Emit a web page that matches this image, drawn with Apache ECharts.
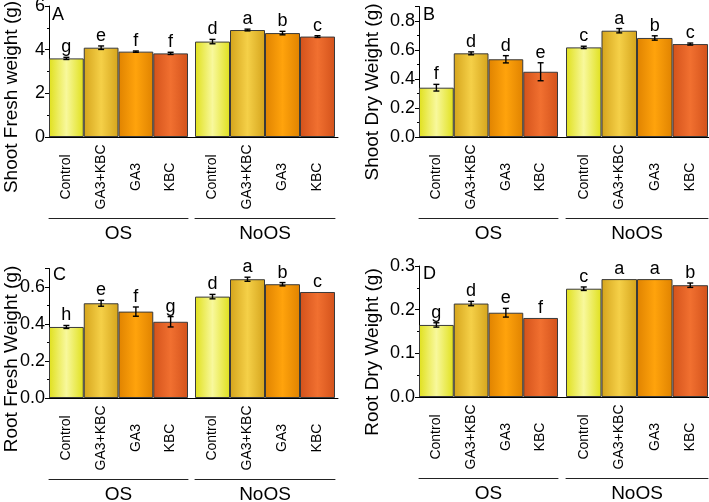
<!DOCTYPE html>
<html><head><meta charset="utf-8">
<script src="https://cdn.jsdelivr.net/npm/echarts@6/dist/echarts.min.js"></script>
<style>html,body{margin:0;padding:0;background:#fff}#c{width:709px;height:502px}</style>
</head><body><div id="c"></div>
<script>
// ---- data ----
const categories = ['Control', 'GA3+KBC', 'GA3', 'KBC'];
const groups = ['OS', 'NoOS'];
const panelLetters = ['A', 'B', 'C', 'D'];
const yNames = ['Shoot Fresh weight (g)', 'Shoot Dry Weight (g)', 'Root Fresh Weight (g)', 'Root Dry Weight (g)'];

const aOS = [3.60, 4.09, 3.91, 3.83];
const aOSErr = [0.05, 0.08, 0.03, 0.05];
const aOSLet = ['g', 'e', 'f', 'f'];
const aNo = [4.37, 4.90, 4.76, 4.60];
const aNoErr = [0.10, 0.04, 0.08, 0.04];
const aNoLet = ['d', 'a', 'b', 'c'];

const bOS = [0.340, 0.577, 0.536, 0.450];
const bOSErr = [0.023, 0.010, 0.025, 0.062];
const bOSLet = ['f', 'd', 'd', 'e'];
const bNo = [0.618, 0.733, 0.683, 0.641];
const bNoErr = [0.008, 0.015, 0.015, 0.007];
const bNoLet = ['c', 'a', 'b', 'c'];

const cOS = [0.384, 0.512, 0.467, 0.412];
const cOSErr = [0.008, 0.016, 0.025, 0.028];
const cOSLet = ['h', 'e', 'f', 'g'];
const cNo = [0.548, 0.642, 0.615, 0.573];
const cNoErr = [0.012, 0.011, 0.009, 0];
const cNoLet = ['d', 'a', 'b', 'c'];

const dOS = [0.165, 0.214, 0.193, 0.181];
const dOSErr = [0.005, 0.005, 0.010, 0];
const dOSLet = ['g', 'd', 'e', 'f'];
const dNo = [0.248, 0.270, 0.270, 0.256];
const dNoErr = [0.004, 0, 0, 0.005];
const dNoLet = ['c', 'a', 'a', 'b'];

const yMax = [6, 0.9, 0.7, 0.3];
const yInterval = [2, 0.2, 0.2, 0.1];
const yDecimals = [0, 1, 1, 1];

const panelData = [
  [[aOS, aOSErr, aOSLet], [aNo, aNoErr, aNoLet]],
  [[bOS, bOSErr, bOSLet], [bNo, bNoErr, bNoLet]],
  [[cOS, cOSErr, cOSLet], [cNo, cNoErr, cNoLet]],
  [[dOS, dOSErr, dOSLet], [dNo, dNoErr, dNoLet]]
];

// ---- layout / style ----
const layouts = [
  {top: 6, base: 137, yx: 49, osR: 188, noL: 195, noR: 335, fullR: 338, nx: 12, ny: 97, lx: 52, ly: 6},
  {top: 6.5, base: 137, yx: 419, osR: 558, noL: 566, noR: 708, fullR: 709, nx: 373, ny: 92, lx: 423, ly: 6},
  {top: 268.5, base: 398, yx: 49, osR: 188, noL: 195, noR: 335, fullR: 338, nx: 12, ny: 359, lx: 53, ly: 266},
  {top: 266, base: 397, yx: 419, osR: 558, noL: 566, noR: 708, fullR: 709, nx: 373, ny: 352, lx: 423, ly: 265}
];
const barColors = [
  ['#f8f89c', '#e0e01c'],
  ['#f5d048', '#d5a41c'],
  ['#ffa30c', '#e08300'],
  ['#f17030', '#d3521b']
];
const FONT = 'Liberation Sans, Arial, sans-serif';

function grad(c) {
  return {type: 'linear', x: 0, y: 0, x2: 1, y2: 0,
    colorStops: [{offset: 0, color: c[1]}, {offset: 0.5, color: c[0]}, {offset: 1, color: c[1]}]};
}

const grids = [], xAxes = [], yAxes = [], series = [], graphics = [];

layouts.forEach((L, p) => {
  const h = L.base - L.top;
  const gFull = grids.length;
  grids.push({left: L.yx, top: L.top, width: L.fullR - L.yx, height: h, outerBoundsMode: 'none'});
  xAxes.push({gridIndex: gFull, type: 'value', min: 0, max: 1,
    axisLine: {show: true, onZero: false, lineStyle: {color: '#000', width: 1}},
    axisTick: {show: false}, axisLabel: {show: false}, splitLine: {show: false}});
  const ratio = yMax[p] / yInterval[p];
  yAxes.push({gridIndex: gFull, type: 'value', min: 0, max: yMax[p], interval: yInterval[p],
    axisLine: {show: true, lineStyle: {color: '#000', width: 1}},
    axisTick: {show: true, length: 4, lineStyle: {color: '#000'}},
    minorTick: {show: true, splitNumber: 2, length: 2, lineStyle: {color: '#000'}},
    splitLine: {show: false}, minorSplitLine: {show: false},
    axisLabel: {color: '#000', fontSize: 18, fontFamily: FONT, margin: 4,
      showMaxLabel: Math.abs(ratio - Math.round(ratio)) < 1e-9,
      formatter: v => Number(v).toFixed(yDecimals[p])}});

  [[L.yx, L.osR], [L.noL, L.noR]].forEach((lr, gi) => {
    const g = grids.length;
    grids.push({left: lr[0], top: L.top, width: lr[1] - lr[0], height: h, outerBoundsMode: 'none'});
    const xi = xAxes.length;
    xAxes.push({gridIndex: g, type: 'category', data: categories,
      axisLine: {show: false}, axisTick: {show: false}, splitLine: {show: false},
      axisLabel: {rotate: 90, align: 'center', margin: 40, color: '#000', fontSize: 14, fontFamily: FONT, interval: 0}});
    xAxes.push({gridIndex: g, type: 'category', data: [groups[gi]], position: 'bottom', offset: 81,
      axisLine: {show: true, lineStyle: {color: '#222', width: 1}}, axisTick: {show: false},
      axisLabel: {margin: 6, color: '#000', fontSize: 19, fontFamily: FONT}});
    const yi = yAxes.length;
    yAxes.push({gridIndex: g, type: 'value', min: 0, max: yMax[p], show: false, splitLine: {show: false}});
    const [vals, errs, lets] = panelData[p][gi];
    series.push({type: 'bar', xAxisIndex: xi, yAxisIndex: yi, barCategoryGap: '0%',
      data: vals.map((v, i) => ({value: v, itemStyle: {color: grad(barColors[i])}})),
      itemStyle: {borderColor: '#3a3a3a', borderWidth: 1}, silent: true, animation: false});
    series.push({type: 'custom', xAxisIndex: xi, yAxisIndex: yi, animation: false, silent: true, z: 5,
      data: vals.map((v, i) => [i, v, errs[i]]),
      renderItem: (params, api) => {
        const i = api.value(0), m = api.value(1), e = api.value(2);
        const top = api.coord([i, m + e]);
        const bot = api.coord([i, m - e]);
        const children = [];
        if (e > 0) {
          const st = {stroke: '#000', lineWidth: 1.4};
          children.push({type: 'line', shape: {x1: top[0], y1: top[1], x2: bot[0], y2: bot[1]}, style: st});
          children.push({type: 'line', shape: {x1: top[0] - 3, y1: top[1], x2: top[0] + 3, y2: top[1]}, style: st});
          children.push({type: 'line', shape: {x1: bot[0] - 3, y1: bot[1], x2: bot[0] + 3, y2: bot[1]}, style: st});
        }
        children.push({type: 'text', x: top[0], y: top[1] - 1,
          style: {text: lets[params.dataIndex], fill: '#000', fontSize: 18, fontFamily: FONT,
            align: 'center', verticalAlign: 'bottom'}});
        return {type: 'group', children};
      }});
  });

  graphics.push({type: 'text', x: L.nx, y: L.ny, rotation: Math.PI / 2,
    style: {text: yNames[p], fill: '#000', fontSize: 19, fontFamily: FONT, align: 'center', verticalAlign: 'middle'}});
  graphics.push({type: 'text', x: L.lx, y: L.ly,
    style: {text: panelLetters[p], fill: '#000', fontSize: 18, fontFamily: FONT, align: 'left', verticalAlign: 'top'}});
});

const chart = echarts.init(document.getElementById('c'), null, {renderer: 'canvas'});
chart.setOption({animation: false, backgroundColor: '#fff', grid: grids, xAxis: xAxes, yAxis: yAxes, series, graphic: graphics});
</script></body></html>
